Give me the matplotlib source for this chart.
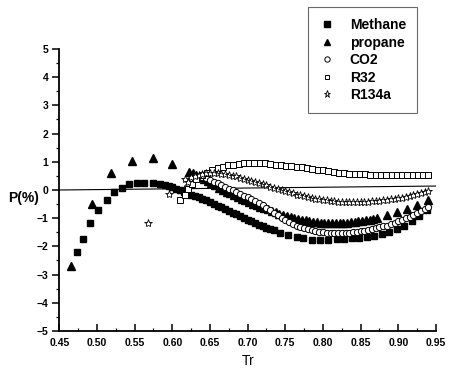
import matplotlib
matplotlib.use('Agg')
import matplotlib.pyplot as plt
from matplotlib.ticker import MultipleLocator

plt.rcParams['font.family'] = ['Liberation Sans', 'DejaVu Sans']
plt.rcParams['font.weight'] = 'bold'

# deviation P(%) vs reduced temperature Tr
methane_tr = [0.474, 0.481, 0.491, 0.502, 0.513, 0.523, 0.533, 0.542, 0.553, 0.563, 0.574, 0.584,
              0.590, 0.595, 0.600, 0.605, 0.610, 0.615, 0.620, 0.625, 0.630, 0.635, 0.640, 0.645,
              0.650, 0.655, 0.660, 0.665, 0.670, 0.675, 0.680, 0.685, 0.690, 0.695, 0.700, 0.705,
              0.710, 0.715, 0.720, 0.725, 0.730, 0.735,
              0.743, 0.754, 0.765, 0.774, 0.785, 0.796, 0.807, 0.818, 0.828, 0.838, 0.848, 0.858,
              0.868, 0.878, 0.888, 0.898, 0.908, 0.918, 0.928, 0.938]
methane_p = [-2.21, -1.74, -1.16, -0.71, -0.37, -0.08, 0.08, 0.20, 0.26, 0.26, 0.26, 0.20,
             0.17, 0.13, 0.09, 0.04, -0.01, -0.06, -0.11, -0.16, -0.21, -0.26, -0.31, -0.37,
             -0.43, -0.49, -0.55, -0.61, -0.68, -0.74, -0.80, -0.86, -0.93, -0.99, -1.05, -1.11,
             -1.17, -1.23, -1.28, -1.33, -1.38, -1.42,
             -1.51, -1.60, -1.66, -1.71, -1.76, -1.79, -1.77, -1.75, -1.73, -1.71, -1.69, -1.66,
             -1.62, -1.56, -1.48, -1.38, -1.26, -1.10, -0.92, -0.70]

propane_tr = [0.466, 0.494, 0.519, 0.546, 0.575, 0.600,
              0.622, 0.627, 0.632, 0.637, 0.642, 0.647, 0.652, 0.657, 0.662, 0.667, 0.672, 0.677,
              0.682, 0.687, 0.692, 0.697, 0.702, 0.707, 0.712, 0.717, 0.722, 0.727, 0.732, 0.737,
              0.742, 0.747, 0.752, 0.757, 0.762, 0.767, 0.772, 0.777, 0.782, 0.787, 0.792, 0.797,
              0.802, 0.807, 0.812, 0.817, 0.822, 0.827, 0.832, 0.837, 0.842, 0.847, 0.852, 0.857,
              0.862, 0.867, 0.872,
              0.885, 0.898, 0.911, 0.925, 0.939]
propane_p = [-2.68, -0.51, 0.61, 1.04, 1.12, 0.91,
             0.65, 0.60, 0.53, 0.46, 0.39, 0.31, 0.24, 0.16, 0.08, 0.01, -0.06, -0.12,
             -0.18, -0.25, -0.31, -0.37, -0.43, -0.49, -0.54, -0.59, -0.64, -0.69, -0.74, -0.79,
             -0.84, -0.88, -0.92, -0.96, -0.99, -1.02, -1.05, -1.08, -1.10, -1.12, -1.14, -1.16,
             -1.17, -1.18, -1.18, -1.18, -1.18, -1.17, -1.16, -1.15, -1.13, -1.11, -1.09, -1.07,
             -1.05, -1.03, -1.01,
             -0.88, -0.79, -0.67, -0.52, -0.37]

co2_tr = [0.620, 0.625, 0.630, 0.635, 0.640, 0.645, 0.650, 0.655, 0.660, 0.665, 0.670, 0.675,
          0.680, 0.685, 0.690, 0.695, 0.700, 0.705, 0.710, 0.715, 0.720, 0.725, 0.730, 0.735,
          0.740, 0.745, 0.750, 0.755, 0.760, 0.765, 0.770, 0.775, 0.780, 0.785, 0.790, 0.795,
          0.800, 0.805, 0.810, 0.815, 0.820, 0.825, 0.830, 0.835, 0.840, 0.845, 0.850, 0.855,
          0.860, 0.865, 0.870, 0.875, 0.880, 0.885, 0.890, 0.895, 0.900, 0.905, 0.910, 0.915,
          0.920, 0.925, 0.930, 0.935, 0.940]
co2_p = [0.12, 0.28, 0.40, 0.46, 0.47, 0.42, 0.36, 0.30, 0.24, 0.18, 0.12, 0.05,
         -0.01, -0.07, -0.13, -0.20, -0.26, -0.32, -0.39, -0.46, -0.54, -0.63, -0.72, -0.81,
         -0.90, -0.99, -1.07, -1.14, -1.20, -1.26, -1.31, -1.36, -1.40, -1.43, -1.46, -1.48,
         -1.50, -1.52, -1.53, -1.54, -1.54, -1.54, -1.53, -1.52, -1.50, -1.48, -1.46, -1.44,
         -1.41, -1.38, -1.35, -1.32, -1.29, -1.26, -1.21, -1.16, -1.11, -1.06, -1.01, -0.96,
         -0.90, -0.83, -0.76, -0.68, -0.59]

r32_tr = [0.610, 0.617, 0.621, 0.626, 0.632, 0.639, 0.646, 0.653, 0.660, 0.667, 0.674, 0.681,
          0.688, 0.695, 0.702, 0.709, 0.716, 0.723, 0.730, 0.737, 0.744, 0.751, 0.758, 0.765,
          0.772, 0.779, 0.786, 0.793, 0.800, 0.807, 0.814, 0.821, 0.828, 0.835, 0.842, 0.849,
          0.856, 0.863, 0.870, 0.877, 0.884, 0.891, 0.898, 0.905, 0.912, 0.919, 0.926, 0.933,
          0.940]
r32_p = [-0.35, -0.18, 0.02, 0.22, 0.38, 0.52, 0.62, 0.71, 0.78, 0.83, 0.87, 0.90,
         0.92, 0.94, 0.95, 0.95, 0.95, 0.94, 0.92, 0.90, 0.88, 0.86, 0.84, 0.82,
         0.80, 0.77, 0.75, 0.72, 0.70, 0.67, 0.64, 0.62, 0.60, 0.58, 0.57, 0.56,
         0.55, 0.54, 0.54, 0.53, 0.53, 0.53, 0.52, 0.52, 0.52, 0.52, 0.52, 0.52,
         0.52]

r134a_tr = [0.568, 0.595, 0.617, 0.621, 0.625, 0.630, 0.635, 0.640, 0.645, 0.650, 0.655, 0.660,
            0.665, 0.670, 0.675, 0.680, 0.685, 0.690, 0.695, 0.700, 0.705, 0.710, 0.715, 0.720,
            0.725, 0.730, 0.735, 0.740, 0.745, 0.750, 0.755, 0.760, 0.765, 0.770, 0.775, 0.780,
            0.785, 0.790, 0.795, 0.800, 0.805, 0.810, 0.815, 0.820, 0.825, 0.830, 0.835, 0.840,
            0.845, 0.850, 0.855, 0.860, 0.865, 0.870, 0.875, 0.880, 0.885, 0.890, 0.895, 0.900,
            0.905, 0.910, 0.915, 0.920, 0.925, 0.930, 0.935, 0.940]
r134a_p = [-1.16, -0.15, 0.38, 0.28, 0.45, 0.50, 0.54, 0.57, 0.59, 0.60, 0.60, 0.59,
           0.58, 0.56, 0.54, 0.51, 0.48, 0.44, 0.40, 0.36, 0.32, 0.28, 0.24, 0.20,
           0.16, 0.12, 0.08, 0.04, 0.00, -0.04, -0.08, -0.12, -0.16, -0.19, -0.22, -0.25,
           -0.28, -0.31, -0.33, -0.35, -0.37, -0.39, -0.40, -0.41, -0.42, -0.42, -0.43, -0.43,
           -0.43, -0.42, -0.42, -0.41, -0.40, -0.39, -0.38, -0.37, -0.35, -0.33, -0.31, -0.29,
           -0.27, -0.24, -0.21, -0.18, -0.14, -0.10, -0.06, -0.02]

# the zero reference line is slightly tilted in the scan
zero_tr = [0.45, 0.95]
zero_p = [0.0, 0.14]


def main():
    fig = plt.figure(figsize=(4.51, 3.70), dpi=100)
    ax = fig.add_axes([0.1315, 0.1054, 0.8352, 0.7622])

    ax.plot(zero_tr, zero_p, color='black', lw=0.8, zorder=1)

    ax.plot(methane_tr, methane_p, 's', ms=4.5, color='black', mec='black', label='Methane')
    ax.plot(propane_tr, propane_p, '^', ms=5.5, color='black', mec='black', label='propane')
    ax.plot(co2_tr, co2_p, 'o', ms=4.5, mfc='white', mec='black', mew=0.7, label='CO2')
    ax.plot(r32_tr, r32_p, 's', ms=4.2, mfc='white', mec='black', mew=0.7, label='R32')
    ax.plot(r134a_tr, r134a_p, '*', ms=6, mfc='white', mec='black', mew=0.6, label='R134a')

    ax.set_xlim(0.45, 0.95)
    ax.set_ylim(-5, 5)
    ax.xaxis.set_major_locator(MultipleLocator(0.05))
    ax.xaxis.set_minor_locator(MultipleLocator(0.025))
    ax.yaxis.set_major_locator(MultipleLocator(1))
    ax.yaxis.set_minor_locator(MultipleLocator(0.5))
    ax.set_xticklabels(['%.2f' % t for t in ax.get_xticks()])

    for side in ['top', 'right']:
        ax.spines[side].set_visible(False)
    for side in ['left', 'bottom']:
        ax.spines[side].set_linewidth(1.3)

    ax.tick_params(axis='x', which='major', direction='in', length=5, width=1.1, labelsize=7.5, pad=5)
    ax.tick_params(axis='x', which='minor', direction='in', length=2.5, width=0.9)
    ax.tick_params(axis='y', which='major', direction='out', length=5, width=1.1, labelsize=7.5, pad=3)
    ax.tick_params(axis='y', which='minor', direction='out', length=2.5, width=0.9)

    ax.set_xlabel('Tr', fontsize=10, labelpad=4)
    ax.text(-0.055, -0.3, 'P(%)', transform=ax.get_yaxis_transform(), fontsize=10,
            ha='right', va='center')

    leg = fig.legend(loc='upper left', bbox_to_anchor=(0.683, 0.981), fontsize=10,
                     frameon=True, fancybox=False, edgecolor='#444444', numpoints=1,
                     labelspacing=0.25, handlelength=1.2, handletextpad=1.0,
                     borderpad=0.8, borderaxespad=0, markerscale=0.85)
    leg.get_frame().set_linewidth(0.8)

    plt.savefig('out.png', dpi=100)


if __name__ == '__main__':
    main()
